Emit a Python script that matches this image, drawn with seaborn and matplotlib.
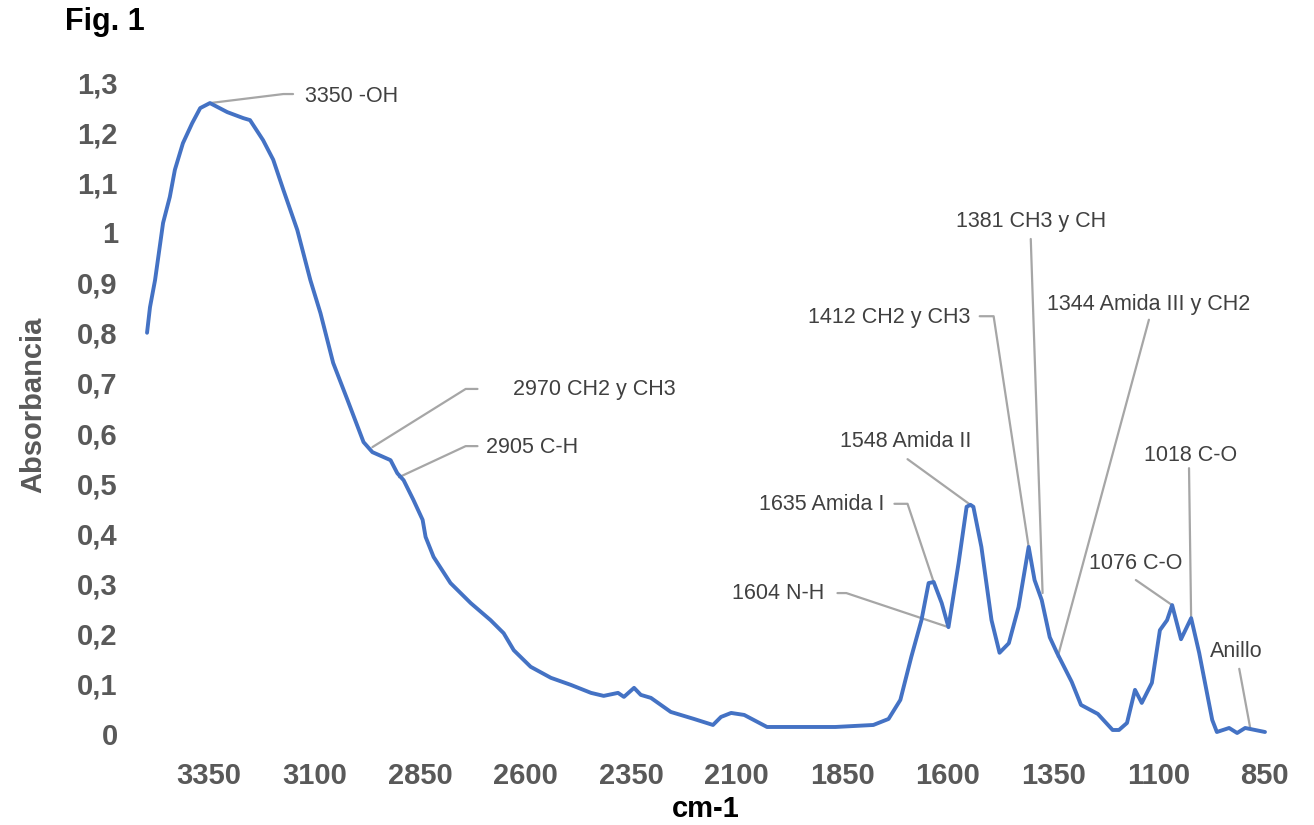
import matplotlib
matplotlib.use("Agg")
import matplotlib.pyplot as plt
import pandas as pd
import seaborn as sns

# ---------------- data ----------------
wavenumber = [3497, 3490, 3478, 3459, 3443, 3431, 3412, 3390, 3371, 3348,
              3307, 3269, 3253, 3222, 3198, 3174, 3141, 3110, 3086, 3056,
              3022, 2984, 2963, 2920, 2904, 2889, 2866, 2844, 2837, 2818,
              2778, 2730, 2683, 2652, 2628, 2588, 2540, 2493, 2445, 2415,
              2381, 2367, 2343, 2327, 2303, 2256, 2201, 2156, 2137, 2113,
              2082, 2028, 1956, 1866, 1776, 1740, 1712, 1686, 1662, 1645,
              1633, 1614, 1598, 1574, 1555, 1546, 1539, 1520, 1496, 1477,
              1455, 1432, 1408, 1394, 1377, 1358, 1341, 1306, 1284, 1244,
              1209, 1194, 1175, 1156, 1140, 1116, 1097, 1080, 1068, 1047,
              1023, 1004, 973, 962, 933, 914, 895, 848]
absorbance = [0.800, 0.851, 0.905, 1.019, 1.071, 1.125, 1.178, 1.218, 1.248, 1.258,
              1.240, 1.228, 1.224, 1.184, 1.145, 1.085, 1.005, 0.905, 0.839, 0.740,
              0.666, 0.582, 0.562, 0.546, 0.520, 0.506, 0.467, 0.427, 0.393, 0.353,
              0.301, 0.261, 0.227, 0.201, 0.167, 0.134, 0.112, 0.098, 0.082, 0.076,
              0.082, 0.074, 0.092, 0.078, 0.072, 0.044, 0.030, 0.018, 0.034, 0.042,
              0.038, 0.014, 0.014, 0.014, 0.018, 0.030, 0.068, 0.154, 0.227, 0.301,
              0.303, 0.261, 0.213, 0.341, 0.453, 0.457, 0.453, 0.373, 0.227, 0.162,
              0.181, 0.253, 0.373, 0.307, 0.267, 0.193, 0.162, 0.104, 0.058, 0.040,
              0.008, 0.008, 0.022, 0.088, 0.062, 0.102, 0.207, 0.227, 0.257, 0.189,
              0.231, 0.162, 0.028, 0.004, 0.012, 0.002, 0.012, 0.004]

x_ticks = [3350, 3100, 2850, 2600, 2350, 2100, 1850, 1600, 1350, 1100, 850]
x_tick_labels = ["3350", "3100", "2850", "2600", "2350", "2100", "1850",
                 "1600", "1350", "1100", "850"]
y_ticks = [0, 0.1, 0.2, 0.3, 0.4, 0.5, 0.6, 0.7, 0.8, 0.9, 1.0, 1.1, 1.2, 1.3]
y_tick_labels = ["0", "0,1", "0,2", "0,3", "0,4", "0,5", "0,6", "0,7", "0,8",
                 "0,9", "1", "1,1", "1,2", "1,3"]

peak_labels = ["3350 -OH", "2970 CH2 y CH3", "2905 C-H", "1604 N-H",
               "1635 Amida I", "1548 Amida II", "1412 CH2 y CH3",
               "1381 CH3 y CH", "1344 Amida III y CH2", "1076 C-O",
               "1018 C-O", "Anillo"]
peak_x = [3348, 2963, 2900, 1598, 1633, 1546, 1408, 1375, 1339, 1068, 1023, 883]
peak_y = [1.258, 0.572, 0.512, 0.213, 0.303, 0.457, 0.373, 0.281, 0.154, 0.257, 0.231, 0.012]

# ---------------- layout of the data labels (leader elbows, text anchors) ----------------
leader_extra = [
    [(3174, 1.276), (3151, 1.276)],
    [(2742, 0.688), (2714, 0.688)],
    [(2742, 0.574), (2714, 0.574)],
    [(1840, 0.281), (1861, 0.281)],
    [(1695, 0.459), (1726, 0.459)],
    [(1695, 0.548)],
    [(1491, 0.833), (1524, 0.833)],
    [(1403, 0.987)],
    [(1123, 0.826)],
    [(1154, 0.307)],
    [(1028, 0.530)],
    [(909, 0.130)],
]
text_anchor = [
    (3122, 1.272, "left"),
    (2631, 0.686, "left"),
    (2695, 0.572, "left"),
    (1892, 0.281, "right"),
    (1750, 0.457, "right"),
    (1699, 0.584, "center"),
    (1546, 0.830, "right"),
    (1403, 1.021, "center"),
    (1124, 0.857, "center"),
    (1154, 0.339, "center"),
    (1024, 0.556, "center"),
    (915, 0.164, "center"),
]

# ---------------- plot ----------------
sns.set_theme(style="white")
plt.rcParams["font.family"] = ["Liberation Sans", "DejaVu Sans"]

fig = plt.figure(figsize=(13.14, 8.25), dpi=100)
ax = fig.add_axes([0.1119, 0.1103, 0.8508, 0.7903])

df = pd.DataFrame({"cm-1": wavenumber, "Absorbancia": absorbance})
sns.lineplot(data=df, x="cm-1", y="Absorbancia", sort=False, estimator=None,
             color="#4472C4", linewidth=2.8, ax=ax)
for ln in ax.lines:
    ln.set_clip_on(False)
    ln.set_solid_joinstyle("round")

ax.set_xlim(3497, 848)
ax.set_ylim(0, 1.3)
for s in ax.spines.values():
    s.set_visible(False)
ax.grid(False)

ax.set_xticks(x_ticks)
ax.set_xticklabels(x_tick_labels, fontsize=21, fontweight="bold", color="#595959")
ax.set_yticks(y_ticks)
ax.set_yticklabels(y_tick_labels, fontsize=21, fontweight="bold", color="#595959")
ax.tick_params(axis="x", length=0, pad=20)
ax.tick_params(axis="y", length=0, pad=21)
ax.set_xlabel("")
ax.set_ylabel("")

# leader lines and labels
for lab, px, py, extra, (tx, ty, ha) in zip(peak_labels, peak_x, peak_y,
                                            leader_extra, text_anchor):
    xs = [px] + [e[0] for e in extra]
    ys = [py] + [e[1] for e in extra]
    ax.plot(xs, ys, color="#a6a6a6", lw=1.6, clip_on=False, zorder=1)
    ax.text(tx, ty, lab, ha=ha, va="center", fontsize=15.5, color="#404040",
            clip_on=False)

fig.text(65 / 1314, 1 - 22 / 825, "Fig. 1", fontsize=22, fontweight="bold",
         color="black", ha="left", va="center")
fig.text(706 / 1314, 1 - 809 / 825, "cm-1", fontsize=21, fontweight="bold",
         color="black", ha="center", va="center")
fig.text(33 / 1314, 1 - 405 / 825, "Absorbancia", fontsize=21, fontweight="bold",
         color="#595959", ha="center", va="center", rotation=90)

fig.savefig("out.png", dpi=100)
